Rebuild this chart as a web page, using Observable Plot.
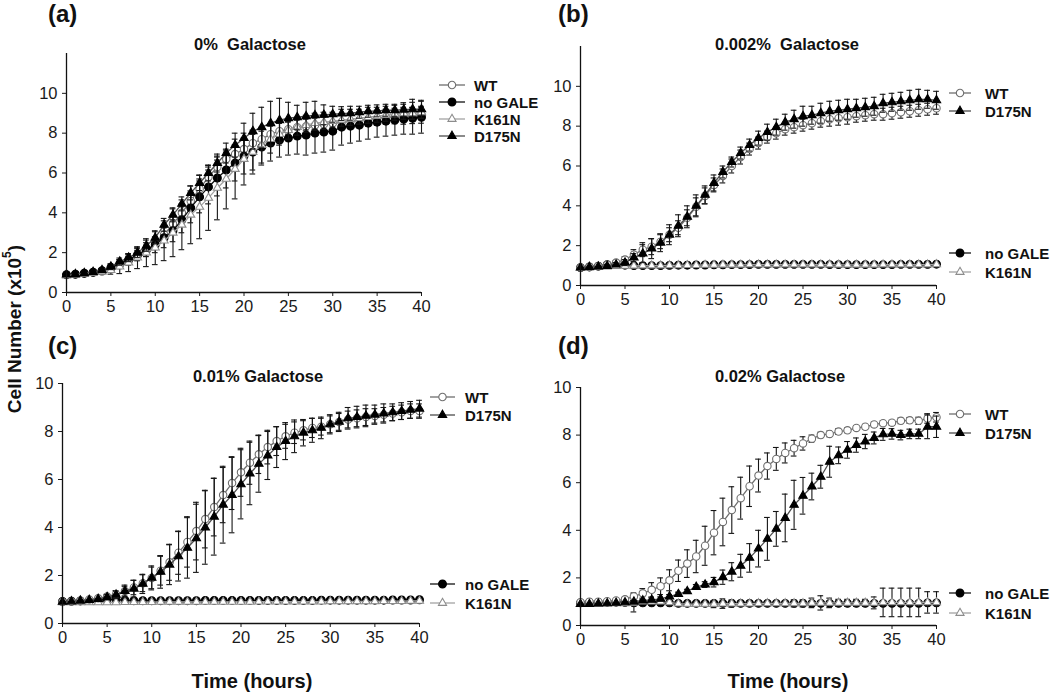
<!DOCTYPE html>
<html>
<head>
<meta charset="utf-8">
<script src="https://cdn.jsdelivr.net/npm/d3@7"></script>
<script src="https://cdn.jsdelivr.net/npm/@observablehq/plot@0.6"></script>
<style>
  html, body { margin: 0; padding: 0; background: #fff; }
  #root { position: relative; width: 1050px; height: 693px; background: #fff; overflow: hidden;
          font-family: Arial, "Liberation Sans", Helvetica, sans-serif; }
  .panel { position: absolute; }
  #overlay { position: absolute; left: 0; top: 0; pointer-events: none; }
</style>
</head>
<body>
<div id="root">
  <div class="panel" id="pa" style="left:0px;top:0px"></div>
  <div class="panel" id="pb" style="left:525px;top:0px"></div>
  <div class="panel" id="pc" style="left:0px;top:320px"></div>
  <div class="panel" id="pd" style="left:525px;top:320px"></div>
</div>
<script>
// ---------------- data ----------------
const T = [0,1,2,3,4,5,6,7,8,9,10,11,12,13,14,15,16,17,18,19,20,21,22,23,24,25,26,27,28,29,30,31,32,33,34,35,36,37,38,39,40];
const X_TICKS = [0,5,10,15,20,25,30,35,40];
const Y_TICKS = [0,2,4,6,8,10];
const SERIES = ["WT", "no GALE", "K161N", "D175N"];
const PANEL_LETTERS = ["(a)", "(b)", "(c)", "(d)"];
const PANEL_TITLES = ["0%  Galactose", "0.002%  Galactose", "0.01% Galactose", "0.02% Galactose"];
const Y_LABEL = "Cell Number (x10";
const Y_LABEL_SUP = "5";
const X_LABEL = "Time (hours)";

// (a) 0% galactose
const a_WT      = [0.88,0.90,0.94,0.99,1.06,1.18,1.38,1.60,1.85,2.10, 2.45,2.90,3.45,4.00,4.60,5.20,5.80,6.30,6.70,6.95, 7.20,7.50,7.70,7.95,8.10,8.20,8.30,8.35,8.40,8.45, 8.50,8.55,8.60,8.65,8.70,8.75,8.80,8.82,8.85,8.88, 8.90];
const a_noGALE  = [0.90,0.92,0.97,1.02,1.10,1.25,1.45,1.65,1.90,2.15, 2.40,2.75,3.10,3.65,4.25,4.80,5.30,5.75,6.15,6.50, 6.85,7.05,7.30,7.50,7.65,7.75,7.85,7.90,8.00,8.05, 8.10,8.30,8.35,8.40,8.50,8.55,8.60,8.65,8.70,8.75, 8.80];
const a_K161N   = [0.85,0.88,0.92,0.97,1.03,1.12,1.30,1.50,1.75,2.00, 2.25,2.60,3.00,3.40,3.90,4.30,4.75,5.25,5.70,6.20, 6.70,7.05,7.40,7.70,7.95,8.15,8.30,8.40,8.50,8.55, 8.60,8.65,8.70,8.75,8.80,8.85,8.90,8.95,9.00,9.00, 9.05];
const a_D175N   = [0.90,0.92,0.97,1.03,1.12,1.30,1.55,1.75,2.00,2.35, 2.75,3.40,3.90,4.45,5.00,5.50,6.00,6.50,7.00,7.40, 7.75,8.10,8.30,8.50,8.65,8.75,8.80,8.85,8.90,8.92, 8.95,8.98,9.00,9.05,9.10,9.12,9.15,9.15,9.18,9.20, 9.20];
const a_WT_err     = [.05,.05,.05,.06,.08,.12,.18,.22,.25,.28, .30,.35,.40,.45,.50,.50,.50,.50,.45,.45, .45,.45,.40,.40,.40,.35,.35,.35,.35,.35, .35,.35,.35,.35,.35,.35,.35,.35,.40,.40, .40];
const a_noGALE_err = [.05,.05,.05,.06,.08,.15,.20,.25,.30,.35, .40,.50,.55,.65,.75,.80,.85,.90,.90,.90, .90,.90,.90,.90,.85,.85,.90,1.0,1.0,1.0, .95,.90,.85,.80,.80,.75,.75,.75,.75,.80, .80];
const a_K161N_err  = [.05,.05,.06,.08,.10,.20,.35,.45,.55,.70, .85,1.0,1.2,1.25,1.45,1.6,1.63,1.6,1.5,1.5, 1.3,1.1,.90,.70,.55,.45,.40,.35,.35,.35, .30,.30,.30,.30,.30,.30,.30,.30,.30,.30, .30];
const a_D175N_err  = [.05,.05,.05,.06,.08,.15,.18,.20,.25,.28, .30,.32,.35,.35,.35,.38,.40,.45,.50,.60, .75,.90,1.0,1.1,1.1,.80,.60,.70,.70,.50, .40,.35,.35,.30,.30,.30,.30,.30,.35,.50, .45];

// (b) 0.002% galactose
const b_WT      = [0.90,0.93,0.97,1.05,1.15,1.30,1.55,1.80,1.95,2.20, 2.55,2.90,3.40,3.95,4.50,5.05,5.50,6.00,6.45,6.85, 7.15,7.45,7.65,7.85,7.95,8.05,8.15,8.25,8.35,8.40, 8.45,8.50,8.55,8.60,8.60,8.65,8.70,8.75,8.80,8.85, 8.90];
const b_noGALE  = [0.90,0.93,0.97,1.05,1.08,1.02,1.00,1.00,1.00,1.00, 1.01,1.02,1.02,1.03,1.03,1.04,1.04,1.05,1.05,1.05, 1.06,1.06,1.06,1.06,1.06,1.06,1.06,1.06,1.05,1.05, 1.05,1.05,1.05,1.05,1.05,1.05,1.06,1.06,1.06,1.06, 1.07];
const b_K161N   = [0.88,0.90,0.92,0.95,0.97,0.98,0.99,1.00,1.00,1.00, 1.01,1.01,1.02,1.02,1.03,1.03,1.04,1.04,1.04,1.05, 1.05,1.05,1.05,1.05,1.05,1.05,1.05,1.05,1.05,1.04, 1.04,1.04,1.04,1.04,1.05,1.05,1.05,1.05,1.05,1.05, 1.06];
const b_D175N   = [0.90,0.93,0.95,0.98,1.05,1.15,1.40,1.60,1.85,2.15, 2.55,3.00,3.45,4.00,4.55,5.15,5.70,6.20,6.65,7.05, 7.40,7.70,7.95,8.20,8.35,8.50,8.55,8.65,8.75,8.80, 8.85,8.90,8.95,9.00,9.15,9.20,9.25,9.30,9.35,9.35, 9.30];
const b_WT_err     = [.05,.05,.06,.08,.10,.15,.25,.35,.40,.35, .35,.35,.40,.45,.40,.35,.35,.35,.35,.30, .30,.30,.30,.30,.30,.30,.30,.30,.35,.35, .35,.30,.30,.30,.30,.30,.30,.30,.30,.30, .30];
const b_noGALE_err = [.04,.04,.04,.05,.05,.04,.04,.04,.04,.04, .04,.04,.04,.04,.04,.04,.04,.04,.04,.04, .04,.04,.04,.04,.04,.04,.04,.04,.04,.04, .04,.04,.04,.04,.04,.04,.04,.04,.04,.04, .04];
const b_K161N_err  = [.04,.04,.04,.04,.05,.05,.05,.05,.05,.05, .05,.05,.05,.05,.05,.05,.05,.05,.05,.05, .05,.05,.05,.05,.05,.05,.05,.05,.05,.05, .05,.05,.05,.05,.05,.05,.05,.05,.05,.05, .05];
const b_D175N_err  = [.05,.05,.06,.08,.10,.15,.20,.45,.50,.45, .50,.55,.55,.55,.45,.40,.30,.25,.30,.30, .35,.40,.40,.40,.45,.50,.45,.50,.50,.50, .50,.45,.45,.45,.45,.45,.45,.50,.50,.45, .45];

// (c) 0.01% galactose
const c_WT      = [0.90,0.92,0.95,1.00,1.05,1.12,1.22,1.35,1.50,1.68, 1.90,2.20,2.55,2.95,3.40,3.85,4.35,4.85,5.35,5.85, 6.30,6.70,7.05,7.35,7.60,7.80,7.95,8.05,8.15,8.20, 8.30,8.40,8.50,8.55,8.60,8.65,8.70,8.75,8.80,8.85, 8.85];
const c_noGALE  = [0.92,0.93,0.94,0.96,0.98,1.00,1.00,0.97,0.95,0.95, 0.95,0.95,0.95,0.95,0.95,0.95,0.96,0.96,0.96,0.96, 0.96,0.96,0.96,0.96,0.96,0.96,0.96,0.96,0.96,0.97, 0.97,0.97,0.97,0.97,0.97,0.97,0.97,0.98,0.98,0.98, 0.99];
const c_K161N   = [0.88,0.88,0.88,0.88,0.88,0.88,0.88,0.89,0.89,0.89, 0.89,0.90,0.90,0.90,0.90,0.90,0.90,0.90,0.90,0.90, 0.90,0.90,0.91,0.91,0.91,0.91,0.91,0.91,0.91,0.91, 0.92,0.92,0.92,0.92,0.92,0.92,0.93,0.93,0.93,0.94, 0.94];
const c_D175N   = [0.90,0.92,0.95,0.98,1.02,1.10,1.20,1.35,1.45,1.65, 1.90,2.15,2.45,2.80,3.15,3.55,4.00,4.45,4.95,5.35, 5.80,6.25,6.65,7.00,7.35,7.60,7.80,7.95,8.05,8.15, 8.30,8.40,8.55,8.60,8.65,8.70,8.75,8.80,8.85,8.90, 8.95];
const c_WT_err     = [.03,.03,.04,.05,.06,.10,.15,.25,.30,.35, .45,.60,.75,.90,1.05,1.20,1.20,1.20,1.15,1.10, 1.00,.90,.80,.70,.60,.50,.45,.40,.40,.35, .35,.35,.35,.35,.35,.30,.30,.30,.30,.30, .30];
const c_noGALE_err = [.03,.03,.03,.03,.03,.03,.03,.03,.03,.03, .03,.03,.03,.03,.03,.03,.03,.03,.03,.03, .03,.03,.03,.03,.03,.03,.03,.03,.03,.03, .03,.03,.03,.03,.03,.03,.03,.03,.03,.03, .03];
const c_K161N_err  = [.03,.03,.03,.03,.03,.03,.03,.03,.03,.03, .03,.03,.03,.03,.03,.03,.03,.03,.03,.03, .03,.03,.03,.03,.03,.03,.03,.03,.03,.03, .03,.03,.03,.03,.03,.03,.03,.03,.03,.03, .03];
const c_D175N_err  = [.03,.03,.04,.05,.06,.10,.15,.20,.35,.40, .50,.68,.83,1.03,1.26,1.42,1.53,1.60,1.60,1.57, 1.44,1.30,1.18,1.00,.85,.77,.68,.55,.50,.45, .40,.40,.45,.45,.45,.40,.40,.35,.35,.35, .35];

// (d) 0.02% galactose
const d_WT      = [0.98,1.00,1.00,1.02,1.05,1.10,1.22,1.35,1.50,1.65, 1.90,2.30,2.60,2.90,3.35,3.90,4.35,4.85,5.35,5.85, 6.30,6.70,7.00,7.25,7.45,7.65,7.85,8.00,8.05,8.15, 8.20,8.30,8.35,8.45,8.50,8.52,8.60,8.62,8.60,8.70, 8.75];
const d_noGALE  = [0.95,0.97,0.97,0.98,0.98,0.97,0.95,0.95,0.95,0.95, 0.95,0.93,0.93,0.93,0.93,0.93,0.93,0.93,0.93,0.93, 0.93,0.93,0.93,0.93,0.93,0.93,0.93,0.93,0.93,0.93, 0.93,0.93,0.93,0.93,0.93,0.93,0.93,0.93,0.93,0.95, 0.95];
const d_K161N   = [0.90,0.90,0.90,0.92,0.93,0.93,0.95,1.00,1.00,1.00, 0.97,0.92,0.90,0.90,0.90,0.90,0.92,0.92,0.92,0.92, 0.93,0.93,0.93,0.93,0.93,0.93,0.95,0.95,0.95,0.95, 0.95,0.95,0.95,0.95,0.97,0.97,0.97,0.97,0.97,0.97, 0.97];
const d_D175N   = [0.90,0.90,0.92,0.93,0.95,0.97,1.00,1.05,1.08,1.12, 1.22,1.32,1.44,1.62,1.72,1.82,2.03,2.26,2.51,2.84, 3.23,3.64,4.06,4.52,5.07,5.45,5.84,6.25,6.88,7.15, 7.38,7.58,7.73,7.88,8.03,8.05,8.00,8.05,8.05,8.35, 8.35];
const d_WT_err     = [.04,.04,.04,.05,.06,.08,.15,.20,.30,.35, .44,.45,.58,.68,.82,.93,1.00,.98,.88,.85, .69,.55,.48,.42,.33,.28,.15,.12,.12,.12, .10,.10,.10,.10,.10,.10,.12,.12,.15,.20, .20];
const d_noGALE_err = [.04,.04,.04,.04,.04,.04,.04,.04,.04,.04, .04,.04,.04,.04,.04,.04,.04,.04,.04,.04, .04,.04,.04,.04,.04,.04,.04,.04,.04,.04, .04,.04,.04,.04,.04,.04,.04,.04,.04,.04, .04];
const d_K161N_err  = [.05,.05,.05,.05,.05,.05,.38,.10,.10,.10, .10,.08,.08,.08,.08,.15,.20,.15,.10,.10, .10,.10,.10,.10,.15,.15,.20,.30,.20,.15, .15,.15,.15,.25,.60,.60,.60,.60,.60,.45, .45];
const d_D175N_err  = [.04,.04,.04,.05,.05,.05,.06,.06,.08,.08, .08,.08,.08,.10,.12,.20,.30,.38,.48,.60, .77,.90,.73,1.00,1.03,.77,.56,.48,.65,.35, .35,.30,.30,.25,.25,.22,.20,.20,.20,.50, .45];

// ---------------- styles ----------------
const STY = {
  "WT":      {line: "#6f6f6f", symbol: "circle",   fill: "#ffffff", stroke: "#6f6f6f", r: 3.7},
  "no GALE": {line: "#111111", symbol: "circle",   fill: "#000000", stroke: "#000000", r: 3.9},
  "K161N":   {line: "#a3a3a3", symbol: "triangle", fill: "#ffffff", stroke: "#8c8c8c", r: 3.0},
  "D175N":   {line: "#4d4d4d", symbol: "triangle", fill: "#000000", stroke: "#000000", r: 3.1}
};

function rowsOf(vals, errs) {
  return T.map((t, i) => ({t, y: vals[i], e: errs[i]}));
}

function seriesMarks(name, rows) {
  const s = STY[name];
  const eb = rows.filter(d => d.e > 0.06);
  return [
    Plot.line(rows, {x: "t", y: "y", stroke: s.line, strokeWidth: 1.3}),
    Plot.ruleX(eb, {x: "t", y1: d => d.y - d.e, y2: d => d.y + d.e, stroke: "#151515", strokeWidth: 1.1}),
    Plot.ruleY(eb, {y: d => d.y + d.e, x1: d => d.t - 0.32, x2: d => d.t + 0.32, stroke: "#151515", strokeWidth: 1.1}),
    Plot.ruleY(eb, {y: d => d.y - d.e, x1: d => d.t - 0.32, x2: d => d.t + 0.32, stroke: "#151515", strokeWidth: 1.1}),
    Plot.dot(rows, {x: "t", y: "y", symbol: s.symbol, r: s.r, fill: s.fill, stroke: s.stroke, strokeWidth: 1.1})
  ];
}

function makePanel(el, cfg) {
  const marks = [];
  for (const [name, vals, errs] of cfg.series) marks.push(...seriesMarks(name, rowsOf(vals, errs)));
  marks.push(Plot.ruleX([0], {stroke: "#111", strokeWidth: 1.3}));
  marks.push(Plot.ruleY([0], {stroke: "#111", strokeWidth: 1.3}));
  const svg = Plot.plot({
    width: 525, height: cfg.height,
    marginLeft: cfg.ml, marginRight: cfg.mr, marginTop: cfg.mt, marginBottom: cfg.mb,
    style: {fontSize: "16.5px", fontFamily: "Arial, 'Liberation Sans', sans-serif",
            background: "transparent", overflow: "visible", color: "#1a1a1a"},
    x: {domain: [0, 40], ticks: X_TICKS, tickSize: 4, tickPadding: 4, label: null},
    y: {domain: [0, cfg.ymax], ticks: Y_TICKS, tickSize: 4, tickPadding: 5, label: null},
    marks
  });
  document.getElementById(el).appendChild(svg);
}

makePanel("pa", {height: 320, ml: 66, mr: 104, mt: 53, mb: 28, ymax: 12,
  series: [["WT", a_WT, a_WT_err], ["no GALE", a_noGALE, a_noGALE_err], ["K161N", a_K161N, a_K161N_err], ["D175N", a_D175N, a_D175N_err]]});
makePanel("pb", {height: 320, ml: 55, mr: 114, mt: 46, mb: 35, ymax: 12,
  series: [["no GALE", b_noGALE, b_noGALE_err], ["K161N", b_K161N, b_K161N_err], ["WT", b_WT, b_WT_err], ["D175N", b_D175N, b_D175N_err]]});
makePanel("pc", {height: 373, ml: 62, mr: 106, mt: 63, mb: 70, ymax: 10,
  series: [["no GALE", c_noGALE, c_noGALE_err], ["K161N", c_K161N, c_K161N_err], ["WT", c_WT, c_WT_err], ["D175N", c_D175N, c_D175N_err]]});
makePanel("pd", {height: 373, ml: 55, mr: 114, mt: 67, mb: 68, ymax: 10,
  series: [["no GALE", d_noGALE, d_noGALE_err], ["K161N", d_K161N, d_K161N_err], ["WT", d_WT, d_WT_err], ["D175N", d_D175N, d_D175N_err]]});

// ---------------- overlay: texts and legends ----------------
const ov = d3.select("#root").append("svg").attr("id", "overlay")
  .attr("width", 1050).attr("height", 693)
  .style("font-family", "Arial, 'Liberation Sans', sans-serif");

const letterPos = [[48, 22], [558, 22], [48, 354], [558, 354]];
PANEL_LETTERS.forEach((L, i) => {
  ov.append("text").attr("x", letterPos[i][0]).attr("y", letterPos[i][1])
    .attr("font-size", 24).attr("font-weight", "bold")
    .attr("fill", "#111").text(L);
});

const titlePos = [[250, 50], [787, 50], [258, 382], [780, 382]];
PANEL_TITLES.forEach((s, i) => {
  ov.append("text").attr("x", titlePos[i][0]).attr("y", titlePos[i][1])
    .attr("text-anchor", "middle").attr("font-size", 16.5).attr("font-weight", "bold")
    .attr("fill", "#111").attr("xml:space", "preserve").style("white-space", "pre").text(s);
});

const yl = ov.append("text").attr("transform", "translate(14,329) rotate(-90)")
  .attr("text-anchor", "middle").attr("dominant-baseline", "central")
  .attr("font-size", 19).attr("font-weight", "bold").attr("fill", "#111");
yl.append("tspan").text(Y_LABEL);
yl.append("tspan").attr("dy", -7).attr("font-size", 12).text(Y_LABEL_SUP);
yl.append("tspan").attr("dy", 7).text(")");

[[252, 688], [788, 688]].forEach(([x, y]) => {
  ov.append("text").attr("x", x).attr("y", y).attr("text-anchor", "middle")
    .attr("font-size", 20).attr("font-weight", "bold").attr("fill", "#111").text(X_LABEL);
});

const legends = [
  {x1: 439, x2: 465, tx: 474, items: [["WT", 85], ["no GALE", 102], ["K161N", 119], ["D175N", 136]]},
  {x1: 949, x2: 971, tx: 985, items: [["WT", 93], ["D175N", 111], ["no GALE", 253], ["K161N", 272]]},
  {x1: 430, x2: 455, tx: 465, items: [["WT", 397], ["D175N", 415], ["no GALE", 584], ["K161N", 603]]},
  {x1: 949, x2: 971, tx: 985, items: [["WT", 414], ["D175N", 433], ["no GALE", 593], ["K161N", 613]]}
];
const symMap = {circle: d3.symbolCircle, triangle: d3.symbolTriangle};
legends.forEach(lg => {
  lg.items.forEach(([name, y]) => {
    const s = STY[name];
    ov.append("line").attr("x1", lg.x1).attr("x2", lg.x2).attr("y1", y).attr("y2", y)
      .attr("stroke", s.line).attr("stroke-width", 1.3);
    ov.append("path").attr("transform", `translate(${(lg.x1 + lg.x2) / 2},${y})`)
      .attr("d", d3.symbol(symMap[s.symbol], Math.PI * s.r * s.r)())
      .attr("fill", s.fill).attr("stroke", s.stroke).attr("stroke-width", 1.1);
    ov.append("text").attr("x", lg.tx).attr("y", y).attr("dominant-baseline", "central")
      .attr("font-size", 15).attr("font-weight", "bold").attr("fill", "#111").text(name);
  });
});
</script>
</body>
</html>
